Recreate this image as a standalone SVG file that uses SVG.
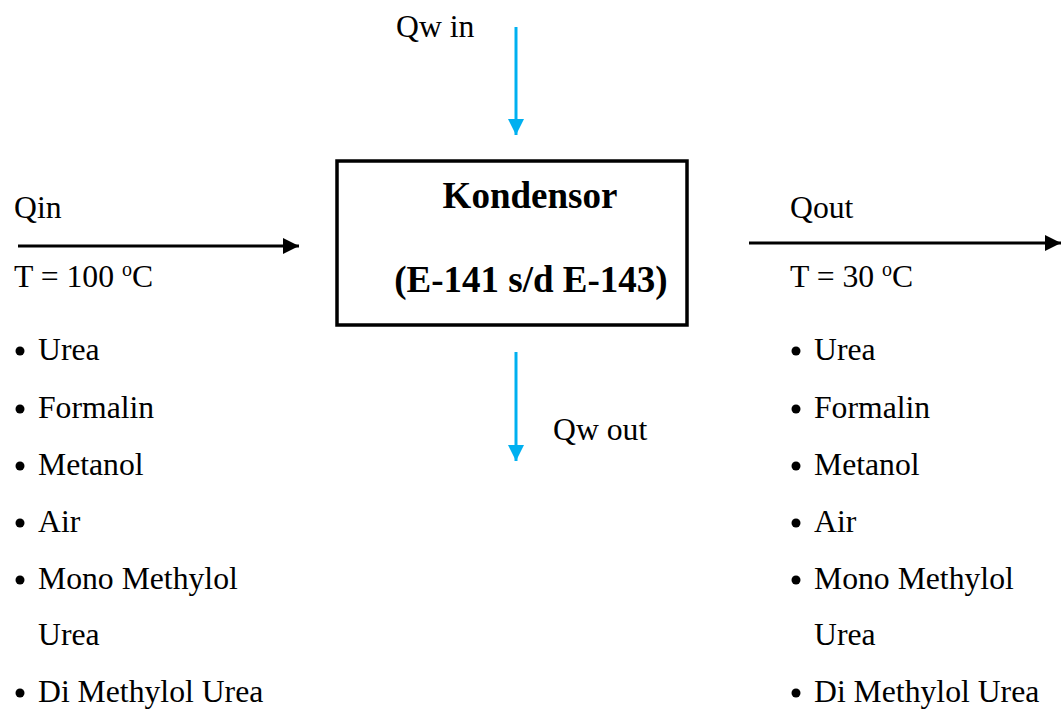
<svg xmlns="http://www.w3.org/2000/svg" width="1063" height="709" viewBox="0 0 1063 709">
<style>
text{font-family:"Liberation Serif","Times New Roman",Times,Tinos,"DejaVu Serif",serif;fill:#000;font-size:31.7px}
.b{font-weight:bold;font-size:37px;text-anchor:middle}
.blk{stroke:#000;stroke-width:3;fill:none}
.blu{stroke:#00B0F0;stroke-width:3;fill:none}
</style>
<defs>
<marker id="ak" markerUnits="userSpaceOnUse" markerWidth="16" markerHeight="16" refX="16" refY="8" orient="auto"><path d="M0,0 L16,8 L0,16 Z" fill="#000"/></marker>
<marker id="ab" markerUnits="userSpaceOnUse" markerWidth="16" markerHeight="16" refX="16" refY="8" orient="auto"><path d="M0,0 L16,8 L0,16 Z" fill="#00B0F0"/></marker>
</defs>
<rect width="1063" height="709" fill="#fff"/>
<g id="kondensor">
<rect x="337" y="161" width="350" height="164" fill="#fff" stroke="#000" stroke-width="3.5"/>
<text class="b" x="530" y="208">Kondensor</text>
<text class="b" x="531" y="292">(E-141 s/d E-143)</text>
</g>
<g id="connectors">
<line class="blk" x1="18" y1="246" x2="299" y2="246" marker-end="url(#ak)"/>
<line class="blk" x1="749" y1="243" x2="1061" y2="243" marker-end="url(#ak)"/>
<line class="blu" x1="516" y1="27" x2="516" y2="135" marker-end="url(#ab)"/>
<line class="blu" x1="516" y1="352" x2="516" y2="461" marker-end="url(#ab)"/>
</g>
<g id="qw-in"><text x="396" y="37">Qw in</text></g>
<g id="qw-out"><text x="553" y="440">Qw out</text></g>
<g id="qin">
<text x="14" y="218">Qin</text>
<text x="14" y="287">T = 100 <tspan font-size="20" dy="-11">o</tspan><tspan dy="11">C</tspan></text>
<g fill="#000">
<circle cx="20" cy="351" r="4.5"/><circle cx="20" cy="409" r="4.5"/><circle cx="20" cy="466" r="4.5"/><circle cx="20" cy="523" r="4.5"/><circle cx="20" cy="580" r="4.5"/><circle cx="20" cy="693" r="4.5"/>
</g>
<text x="38" y="360">Urea</text>
<text x="38" y="418">Formalin</text>
<text x="38" y="475">Metanol</text>
<text x="38" y="532">Air</text>
<text x="38" y="589">Mono Methylol</text>
<text x="38" y="645">Urea</text>
<text x="38" y="702">Di Methylol Urea</text>
</g>
<g id="qout">
<text x="790" y="218">Qout</text>
<text x="790" y="287">T = 30 <tspan font-size="20" dy="-11">o</tspan><tspan dy="11">C</tspan></text>
<g fill="#000">
<circle cx="796" cy="351" r="4.5"/><circle cx="796" cy="409" r="4.5"/><circle cx="796" cy="466" r="4.5"/><circle cx="796" cy="523" r="4.5"/><circle cx="796" cy="580" r="4.5"/><circle cx="796" cy="693" r="4.5"/>
</g>
<text x="814" y="360">Urea</text>
<text x="814" y="418">Formalin</text>
<text x="814" y="475">Metanol</text>
<text x="814" y="532">Air</text>
<text x="814" y="589">Mono Methylol</text>
<text x="814" y="645">Urea</text>
<text x="814" y="702">Di Methylol Urea</text>
</g>
</svg>
